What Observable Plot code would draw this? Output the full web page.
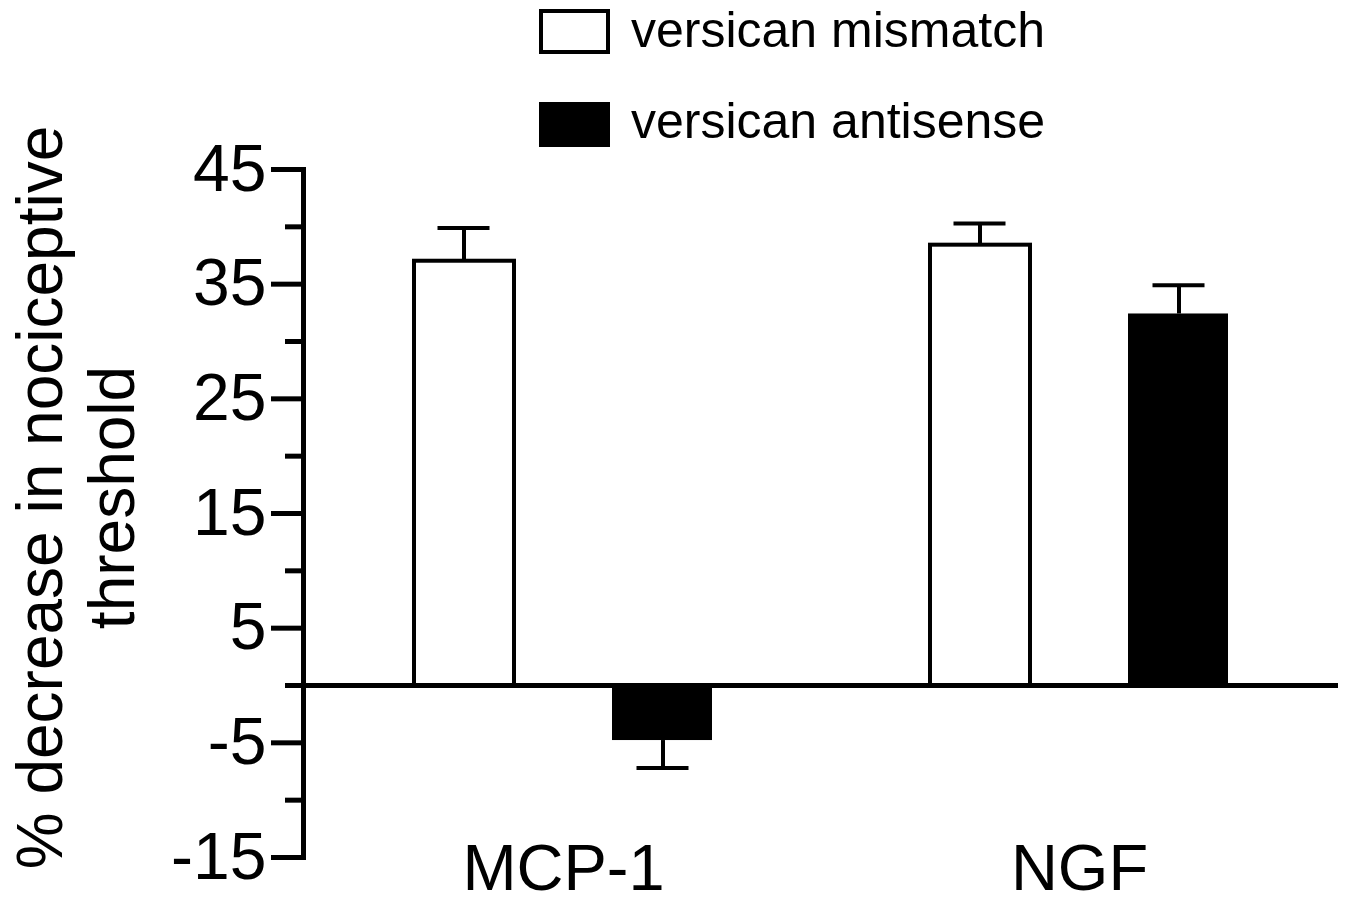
<!DOCTYPE html>
<html>
<head>
<meta charset="utf-8">
<script src="https://cdn.jsdelivr.net/npm/d3@7"></script>
<script src="https://cdn.jsdelivr.net/npm/@observablehq/plot@0.6"></script>
<style>
  html, body { margin: 0; padding: 0; background: white; }
  #wrap { position: relative; width: 1346px; height: 904px; font-family: "Liberation Sans", Arial, sans-serif; }
  .lg-box { position: absolute; box-sizing: border-box; width: 71px; height: 45px; border: 4px solid black; }
  .lg-text { position: absolute; font-size: 50px; line-height: 50px; white-space: nowrap; color: black; }
</style>
</head>
<body>
<div id="wrap">
  <div id="chart"></div>
  <div class="lg-box" style="left:539px; top:9px; background:white;"></div>
  <div class="lg-text" style="left:631px; top:5px;">versican mismatch</div>
  <div class="lg-box" style="left:539px; top:102px; background:black;"></div>
  <div class="lg-text" style="left:631px; top:96px;">versican antisense</div>
</div>
<script>
const categories = ["MCP-1", "NGF"];
const mismatch = [37.0, 38.4];
const mismatchErr = [2.9, 1.9];
const antisense = [-4.8, 32.4];
const antisenseErr = [2.4, 2.5];
const majorTicks = [-15, -5, 5, 15, 25, 35, 45];
const minorTicks = [-10, 0, 10, 20, 30, 40];
const yTitle = "% decrease in nociceptive\nthreshold";

const rows = categories.map((c, i) => ({
  category: c,
  mismatch: mismatch[i],
  mismatchEnd: mismatch[i] + Math.sign(mismatch[i]) * mismatchErr[i],
  antisense: antisense[i],
  antisenseEnd: antisense[i] + Math.sign(antisense[i]) * antisenseErr[i]
}));

const chart = Plot.plot({
  width: 1346,
  height: 904,
  marginLeft: 303,
  marginRight: 8,
  marginTop: 169,
  marginBottom: 47,
  style: { fontFamily: "'Liberation Sans', Arial, sans-serif", background: "white", color: "black", overflow: "visible" },
  x: { domain: categories, paddingInner: 0.4233, paddingOuter: 0.2136 },
  y: { domain: [-15, 45] },
  marks: [
    Plot.barY(rows, { x: "category", y: "mismatch", fill: "white", stroke: "black", strokeWidth: 4, insetRight: 198 }),
    Plot.barY(rows, { x: "category", y: "antisense", fill: "black", insetLeft: 198 }),
    Plot.ruleX(rows, { x: "category", y1: "mismatch", y2: "mismatchEnd", dx: -99.5, strokeWidth: 4 }),
    Plot.tickY(rows, { x: "category", y: "mismatchEnd", insetLeft: 23.5, insetRight: 222.5, strokeWidth: 4 }),
    Plot.ruleX(rows, { x: "category", y1: "antisense", y2: "antisenseEnd", dx: 99.5, strokeWidth: 4 }),
    Plot.tickY(rows, { x: "category", y: "antisenseEnd", insetLeft: 222.5, insetRight: 23.5, strokeWidth: 4 }),
    Plot.ruleY([0], { strokeWidth: 5 }),
    Plot.frame({ anchor: "left", strokeWidth: 5 }),
    Plot.axisY({ ticks: majorTicks, tickSize: 32, tickPadding: 5, fontSize: 66, strokeWidth: 5, label: null, tickFormat: d => String(d) }),
    Plot.axisY({ ticks: minorTicks, tickSize: 18, strokeWidth: 5, label: null, tickFormat: () => "" }),
    Plot.axisX({ tickSize: 0, tickPadding: 0, dy: -14, fontSize: 65, label: null }),
    Plot.text([yTitle], { text: d => d, frameAnchor: "left", rotate: -90, dx: -229, dy: -16, fontSize: 64, lineHeight: 1.125, textAnchor: "middle", lineAnchor: "middle" })
  ]
});
document.getElementById("chart").appendChild(chart);
</script>
</body>
</html>
